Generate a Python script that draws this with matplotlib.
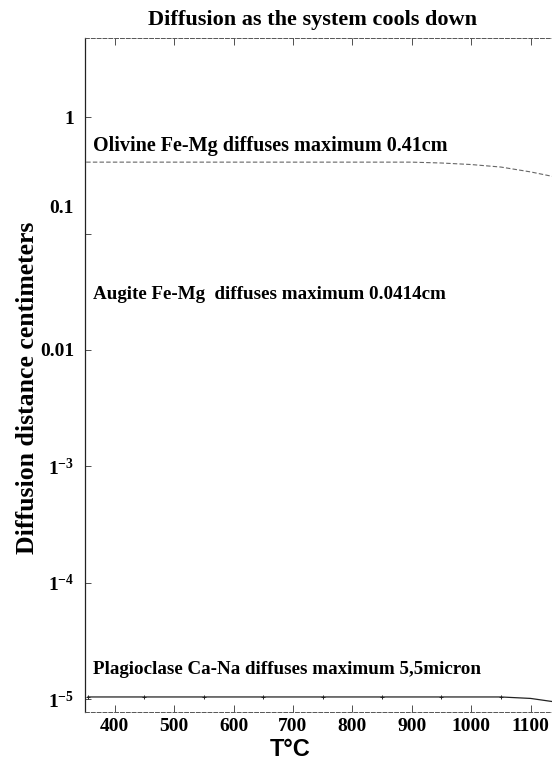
import numpy as np
import matplotlib
matplotlib.use('Agg')
import matplotlib.pyplot as plt
import matplotlib.transforms as mtransforms

plt.rcParams['font.family'] = ['Liberation Serif', 'DejaVu Serif']
plt.rcParams['mathtext.fontset'] = 'custom'
plt.rcParams['mathtext.rm'] = 'Liberation Serif:bold'
plt.rcParams['mathtext.bf'] = 'Liberation Serif:bold'

# data
olivine_t = [352, 400, 500, 600, 700, 800, 900, 950, 1000, 1050, 1100, 1136]
olivine_d = [0.41, 0.41, 0.41, 0.41, 0.41, 0.41, 0.41, 0.403, 0.391, 0.372, 0.338, 0.31]

plag_t = [355, 450, 550, 650, 750, 850, 950, 1050, 1100, 1136]
plag_d = [1.05e-5, 1.05e-5, 1.05e-5, 1.05e-5, 1.05e-5, 1.05e-5, 1.05e-5, 1.05e-5, 1.02e-5, 0.96e-5]

x_ticks = [400, 500, 600, 700, 800, 900, 1000, 1100]
y_ticks = [1, 0.1, 0.01, 1e-3, 1e-4, 1e-5]
y_labels = ['1', '0.1', '0.01', r'$\mathregular{1^{-3}}$', r'$\mathregular{1^{-4}}$', r'$\mathregular{1^{-5}}$']

labels = [
    ('Olivine Fe-Mg diffuses maximum 0.41cm', 0.564, 14.5),
    ('Augite Fe-Mg  diffuses maximum 0.0414cm', 0.0297, 13.7),
    ('Plagioclase Ca-Na diffuses maximum 5,5micron', 1.79e-5, 13.7),
]

fig = plt.figure(figsize=(5.52, 7.66), dpi=100)
ax = fig.add_axes([85 / 552, 1 - 712 / 766, 1 - 85 / 552, (712 - 38) / 766])

ax.plot(olivine_t, olivine_d, color='#666666', lw=0.8, linestyle=(0, (4, 2)))
ax.plot(plag_t, plag_d, color='#222222', lw=0.9, marker='+', markersize=3,
        markeredgewidth=0.7, markevery=slice(0, 8))

ax.set_yscale('log')
ax.set_xlim(350, 1136)
ax.set_ylim(7.8e-6, 4.77)

ax.set_xticks(x_ticks)
ax.set_xticklabels([str(t) for t in x_ticks], fontsize=14, fontweight='bold')
ax.set_yticks(y_ticks)
ax.set_yticklabels(y_labels, fontsize=14, fontweight='bold')
ax.yaxis.set_minor_locator(matplotlib.ticker.NullLocator())

ax.tick_params(axis='x', direction='in', length=5, width=0.6, pad=4,
               top=True, color='#333333')
ax.tick_params(axis='y', direction='in', length=4, width=0.6, pad=8,
               color='#333333')

# the 0.1 label sits higher in the original scan
for lab in ax.get_yticklabels():
    if lab.get_text() == '0.1':
        lab.set_transform(lab.get_transform() +
                          mtransforms.ScaledTranslation(0, 27 / 100, fig.dpi_scale_trans))

ax.spines['right'].set_visible(False)
ax.spines['left'].set_linewidth(0.9)
ax.spines['left'].set_color('#222222')
for s in ['top', 'bottom']:
    ax.spines[s].set_linestyle((0, (4, 2)))
    ax.spines[s].set_linewidth(0.7)
    ax.spines[s].set_color('#555555')

for txt, yv, fs in labels:
    ax.text(363.5, yv, txt, fontsize=fs, fontweight='bold', va='center', ha='left')

fig.text(312 / 552, 1 - 20 / 766, 'Diffusion as the system cools down',
         fontsize=16, fontweight='bold', ha='center', va='center')
fig.text(28 / 552, 1 - 388 / 766, 'Diffusion distance centimeters',
         fontsize=18.5, fontweight='bold', ha='center', va='center', rotation=90)
fig.text(290 / 552, 1 - 750 / 766, 'T°C', family='Liberation Sans',
         fontsize=17, fontweight='bold', ha='center', va='center')

fig.savefig('out.png', dpi=100)
